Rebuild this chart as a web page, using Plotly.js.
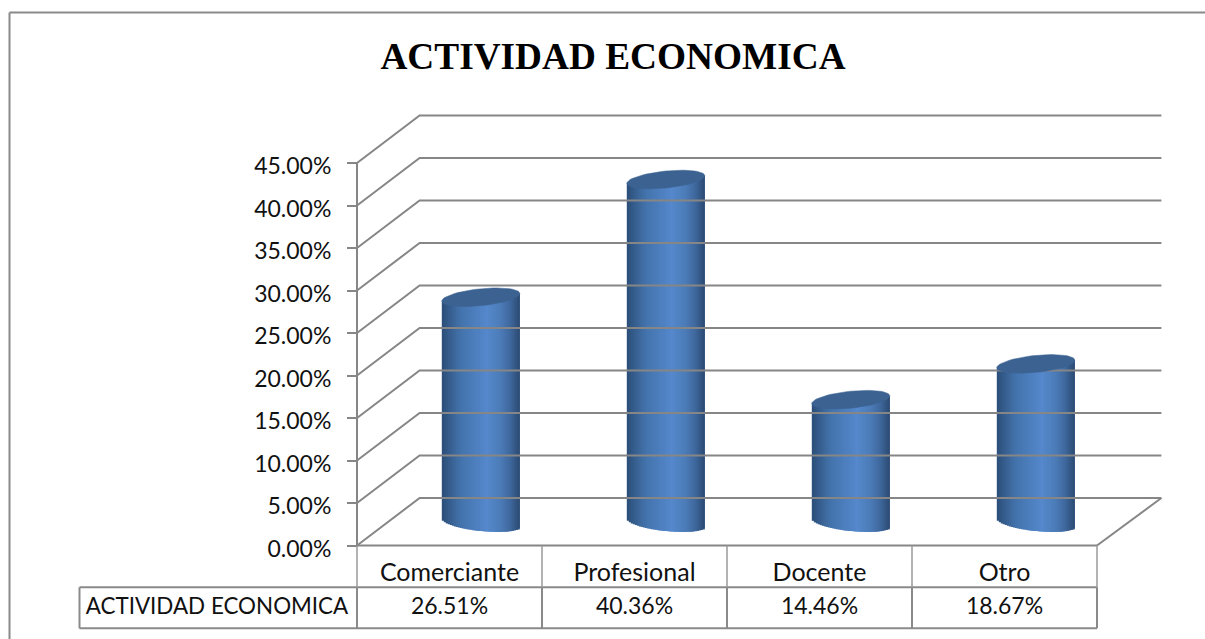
<!DOCTYPE html>
<html>
<head>
<meta charset="utf-8">
<script src="https://cdn.plot.ly/plotly-3.0.1.min.js"></script>
<style>html,body{margin:0;padding:0;background:#fff}#c{width:1205px;height:639px}</style>
</head>
<body>
<div id="c"></div>
<script>
// ---- data ----
const categories = ['Comerciante', 'Profesional', 'Docente', 'Otro'];
const values = [26.51, 40.36, 14.46, 18.67];
const seriesName = 'ACTIVIDAD ECONOMICA';
const chartTitle = 'ACTIVIDAD ECONOMICA';
const yTicks = [0, 5, 10, 15, 20, 25, 30, 35, 40, 45];

// ---- geometry of the scale: page pixels per unit ----
const W = 1205, H = 639, X0 = 357, Y0 = 545.5, PXX = 185, PXY = 8.5;
const dx = 62.6 / PXX, dy = 47.5 / PXY;           // depth of the faux 3D box
const a = 39 / PXX, b = 8.5 / PXY, s = 3.8 / PXY; // cylinder ellipse
const py = p => (Y0 - p) / PXY;
const px = p => (p - X0) / PXX;
const LINE = '#868686', TXT = '#111111', FONT = 'Lato, Carlito, sans-serif';

// ---- walls ----
const n = categories.length;
const backEnd = n + dx + 1.8 / PXX;
const gx = [], gy = [];
yTicks.forEach(v => {
  gx.push(0, dx, backEnd, null);
  gy.push(v, v + dy, v + dy, null);
});
const traces = [];
traces.push({type:'scatter', mode:'lines', x:gx, y:gy, line:{color:LINE, width:2}});
traces.push({type:'scatter', mode:'lines',
  x:[0, 0, null, n, backEnd, null, 0, n],
  y:[0, 45, null, 0, dy, null, 0, 0], line:{color:LINE, width:2}});

// ---- cylinders: gradient body from slices ----
const stops = [[0,[44,77,120]],[.1,[54,94,142]],[.25,[68,116,173]],[.45,[78,128,192]],
               [.58,[85,136,204]],[.75,[76,124,184]],[.88,[62,103,156]],[1,[43,74,114]]];
function shade(t){
  for(let i=1;i<stops.length;i++){
    if(t<=stops[i][0]){
      const [t0,c0]=stops[i-1],[t1,c1]=stops[i],f=(t-t0)/(t1-t0);
      return 'rgb('+c0.map((c,k)=>Math.round(c+(c1[k]-c)*f)).join(',')+')';
    }
  }
  return 'rgb(43,74,114)';
}
const N = 39, cx = [], bars = {x:[],y:[],base:[],width:[],color:[]};
const floorY = dy / 2 - 0.1;
categories.forEach((c, i) => {
  const xc = i + 0.5 + dx / 2;
  cx.push(xc);
  const step = 2 * a / N;
  for (let k = 0; k < N; k++) {
    const u = (k + 0.5) / N * 2 - 1;
    const low = floorY - s * u - b * Math.sqrt(1 - u * u);
    const top = floorY + values[i] + s * u;
    const w = k < N - 1 ? step * 2 : step;      // overlaps its neighbour to avoid seams
    bars.x.push(xc - a + k * step + w / 2);
    bars.base.push(low);
    bars.y.push(top - low);
    bars.width.push(w);
    bars.color.push(shade((k + 0.5) / N));
  }
});
traces.push({type:'bar', x:bars.x, y:bars.y, base:bars.base, width:bars.width,
  marker:{color:bars.color, line:{width:0}}});

// ---- cylinder tops ----
values.forEach((v, i) => {
  const ex = [], ey = [];
  for (let d = 0; d <= 360; d += 6) {
    const t = d * Math.PI / 180;
    ex.push(cx[i] + a * Math.cos(t));
    ey.push(floorY + v + s * Math.cos(t) + b * Math.sin(t));
  }
  traces.push({type:'scatter', mode:'lines', x:ex, y:ey, fill:'toself',
    fillcolor:'#3c6291', line:{color:'#3c6291', width:0.5}});
});

// ---- data table ----
const rowTop = py(587.3), rowBottom = py(628.3), tableLeft = px(79.5);
const tx = [tableLeft, n, null, tableLeft, n, null, tableLeft, tableLeft, null];
const ty = [rowTop, rowTop, null, rowBottom, rowBottom, null, rowTop, rowBottom, null];
for (let i = 0; i <= n; i++) { tx.push(i, i, null); ty.push(rowTop, rowBottom, null); }
traces.push({type:'scatter', mode:'lines', x:tx, y:ty, line:{color:'#8a8a8a', width:2}});
const dxv = [], dyv = [];
for (let i = 0; i <= n; i++) { dxv.push(i, i, null); dyv.push(0, rowTop, null); }
traces.push({type:'scatter', mode:'lines', x:dxv, y:dyv, line:{color:'#9a9a9a', width:1.5}});

traces.push({type:'scatter', mode:'text',
  x:categories.map((c,i)=>i+0.5), y:categories.map(()=>py(608)),
  text:values.map(v=>v.toFixed(2)+'%'), textposition:'middle center',
  textfont:{family:FONT, size:23, color:TXT}});
traces.push({type:'scatter', mode:'text', x:[px(217)], y:[py(608)],
  text:[seriesName], textposition:'middle center',
  textfont:{family:FONT, size:22.4, color:TXT}});

const layout = {
  width:W, height:H, margin:{l:0,r:0,t:0,b:0,pad:0},
  paper_bgcolor:'#fff', plot_bgcolor:'#fff', showlegend:false, barmode:'overlay',
  title:{text:'<b>'+chartTitle+'</b>', x:613/W, xanchor:'center', y:1-56/H, yanchor:'middle',
         font:{family:'"Liberation Serif", serif', size:37.3, color:'#000'}},
  xaxis:{range:[-X0/PXX,(W-X0)/PXX], tickmode:'array',
         tickvals:categories.map((c,i)=>i+0.5), ticktext:categories,
         anchor:'free', position:(H-Y0)/H, side:'bottom', ticks:'', showgrid:false, zeroline:false,
         showline:false, ticklabelstandoff:9, tickfont:{family:FONT, size:25, color:TXT}},
  yaxis:{range:[-(H-Y0)/PXY, Y0/PXY], tickmode:'array', tickvals:yTicks,
         ticktext:yTicks.map(v=>v.toFixed(2)+'%'),
         anchor:'free', position:X0/W, side:'left', ticks:'outside', ticklen:10, tickwidth:2,
         tickcolor:LINE, showgrid:false, zeroline:false, showline:false, ticklabelstandoff:11,
         ticklabelshift:3, tickfont:{family:FONT, size:23, color:TXT}},
  shapes:[
    {type:'line', xref:'paper', yref:'paper', x0:9.5/W, x1:9.5/W, y0:0, y1:1-12.5/H, line:{color:'#8a8a8a', width:2}},
    {type:'line', xref:'paper', yref:'paper', x0:9.5/W, x1:1, y0:1-12.5/H, y1:1-12.5/H, line:{color:'#8a8a8a', width:2}}
  ]
};
traces.forEach(t => { t.hoverinfo = 'skip'; t.showlegend = false; t.cliponaxis = false; });
Plotly.newPlot('c', traces, layout, {staticPlot:true, displayModeBar:false});
</script>
</body>
</html>
